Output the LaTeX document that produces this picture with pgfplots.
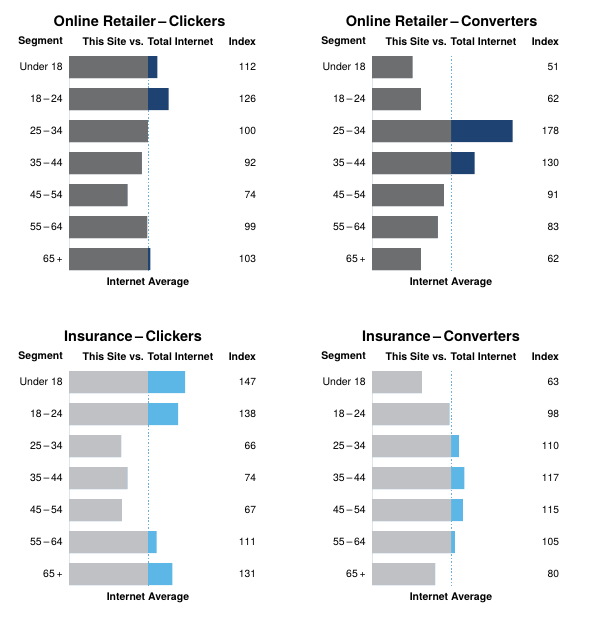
\documentclass[border=0pt]{standalone}
\usepackage{fontspec}
\setmainfont{TeX Gyre Heros}
\usepackage{pgfplots}
\pgfplotsset{compat=1.18}

\definecolor{darkbar}{RGB}{109,110,112}
\definecolor{navybar}{RGB}{30,66,114}
\definecolor{lightbar}{RGB}{192,193,197}
\definecolor{bluebar}{RGB}{92,183,230}
\definecolor{avgline}{RGB}{110,175,215}
\definecolor{leftline}{RGB}{222,228,234}

\pgfplotsset{
  panel/.style={
    scale only axis, width=189.6pt, height=224pt,
    xmin=0, xmax=240, ymin=-0.5, ymax=6.5, y dir=reverse,
    axis line style={draw=none}, major tick length=0pt,
    xtick=\empty, ytick={0,...,6},
    yticklabels={Under 18, 18\,--\,24, 25\,--\,34, 35\,--\,44, 45\,--\,54, 55\,--\,64, 65\,+},
    yticklabel style={anchor=east, inner sep=0pt, xshift=-6pt, font=\fontsize{10.5}{12}\selectfont},
    clip=false, anchor=north west,
  },
  over/.style={xbar, bar width=22pt, bar shift=0pt, draw=none, fill=#1, forget plot},
  base/.style={xbar, bar width=22pt, bar shift=0pt, draw=none, fill=#1, forget plot},
  idx/.style={draw=none, mark=none, forget plot, nodes near coords, point meta=explicit symbolic,
    every node near coord/.append style={anchor=east, inner sep=0pt, font=\fontsize{10.3}{12}\selectfont}},
  refl/.style={avgline, line width=0.8pt, dash pattern=on 1.6pt off 1.8pt, mark=none, forget plot},
  leftl/.style={leftline, line width=0.6pt, mark=none, forget plot},
}
\tikzset{
  hdr/.style={font=\bfseries\fontsize{10.5}{12}\selectfont, inner sep=0pt},
  ttl/.style={font=\bfseries\fontsize{14.5}{17}\selectfont, inner sep=0pt},
}

\begin{document}
\begin{tikzpicture}
\useasboundingbox (0pt,0pt) rectangle (600pt,-625pt);

% Online Retailer - Clickers
\begin{axis}[panel, at={(69pt,-51pt)}]
\addplot[leftl] coordinates {(0,-0.35) (0,6.35)};
\addplot[refl] coordinates {(100,-0.35) (100,6.35)};
\addplot[over=navybar] coordinates {(112,0) (126,1) (100,2) (92,3) (74,4) (99,5) (103,6)};
\addplot[base=darkbar] coordinates {(100,0) (100,1) (100,2) (92,3) (74,4) (99,5) (100,6)};
\addplot[idx] coordinates {(237,0)[112] (237,1)[126] (237,2)[100] (237,3)[92] (237,4)[74] (237,5)[99] (237,6)[103]};
\node[ttl] at ([yshift=30pt]axis description cs:0.372,1) {Online Retailer\,--\,Clickers};
\node[hdr, anchor=east] at ([xshift=-6pt,yshift=9pt]axis description cs:0,1) {Segment};
\node[hdr] at ([yshift=9pt]axis cs:100,-0.5) {This Site vs. Total Internet};
\node[hdr, anchor=east] at ([yshift=9pt]axis cs:237,-0.5) {Index};
\node[hdr] at ([yshift=-8pt]axis cs:100,6.5) {Internet Average};
\end{axis}

% Online Retailer - Converters
\begin{axis}[panel, at={(372pt,-51pt)}]
\addplot[leftl] coordinates {(0,-0.35) (0,6.35)};
\addplot[refl] coordinates {(100,-0.35) (100,6.35)};
\addplot[over=navybar] coordinates {(51,0) (62,1) (178,2) (130,3) (91,4) (83,5) (62,6)};
\addplot[base=darkbar] coordinates {(51,0) (62,1) (100,2) (100,3) (91,4) (83,5) (62,6)};
\addplot[idx] coordinates {(237,0)[51] (237,1)[62] (237,2)[178] (237,3)[130] (237,4)[91] (237,5)[83] (237,6)[62]};
\node[ttl] at ([yshift=30pt]axis description cs:0.367,1) {Online Retailer\,--\,Converters};
\node[hdr, anchor=east] at ([xshift=-6pt,yshift=9pt]axis description cs:0,1) {Segment};
\node[hdr] at ([yshift=9pt]axis cs:100,-0.5) {This Site vs. Total Internet};
\node[hdr, anchor=east] at ([yshift=9pt]axis cs:237,-0.5) {Index};
\node[hdr] at ([yshift=-8pt]axis cs:100,6.5) {Internet Average};
\end{axis}

% Insurance - Clickers
\begin{axis}[panel, at={(69pt,-366pt)}]
\addplot[leftl] coordinates {(0,-0.35) (0,6.35)};
\addplot[refl] coordinates {(100,-0.35) (100,6.35)};
\addplot[over=bluebar] coordinates {(147,0) (138,1) (66,2) (74,3) (67,4) (111,5) (131,6)};
\addplot[base=lightbar] coordinates {(100,0) (100,1) (66,2) (74,3) (67,4) (100,5) (100,6)};
\addplot[idx] coordinates {(237,0)[147] (237,1)[138] (237,2)[66] (237,3)[74] (237,4)[67] (237,5)[111] (237,6)[131]};
\node[ttl] at ([yshift=30pt]axis description cs:0.338,1) {Insurance\,--\,Clickers};
\node[hdr, anchor=east] at ([xshift=-6pt,yshift=9pt]axis description cs:0,1) {Segment};
\node[hdr] at ([yshift=9pt]axis cs:100,-0.5) {This Site vs. Total Internet};
\node[hdr, anchor=east] at ([yshift=9pt]axis cs:237,-0.5) {Index};
\node[hdr] at ([yshift=-8pt]axis cs:100,6.5) {Internet Average};
\end{axis}

% Insurance - Converters
\begin{axis}[panel, at={(372pt,-366pt)}]
\addplot[leftl] coordinates {(0,-0.35) (0,6.35)};
\addplot[refl] coordinates {(100,-0.35) (100,6.35)};
\addplot[over=bluebar] coordinates {(63,0) (98,1) (110,2) (117,3) (115,4) (105,5) (80,6)};
\addplot[base=lightbar] coordinates {(63,0) (98,1) (100,2) (100,3) (100,4) (100,5) (80,6)};
\addplot[idx] coordinates {(237,0)[63] (237,1)[98] (237,2)[110] (237,3)[117] (237,4)[115] (237,5)[105] (237,6)[80]};
\node[ttl] at ([yshift=30pt]axis description cs:0.364,1) {Insurance\,--\,Converters};
\node[hdr, anchor=east] at ([xshift=-6pt,yshift=9pt]axis description cs:0,1) {Segment};
\node[hdr] at ([yshift=9pt]axis cs:100,-0.5) {This Site vs. Total Internet};
\node[hdr, anchor=east] at ([yshift=9pt]axis cs:237,-0.5) {Index};
\node[hdr] at ([yshift=-8pt]axis cs:100,6.5) {Internet Average};
\end{axis}
\end{tikzpicture}
\end{document}
